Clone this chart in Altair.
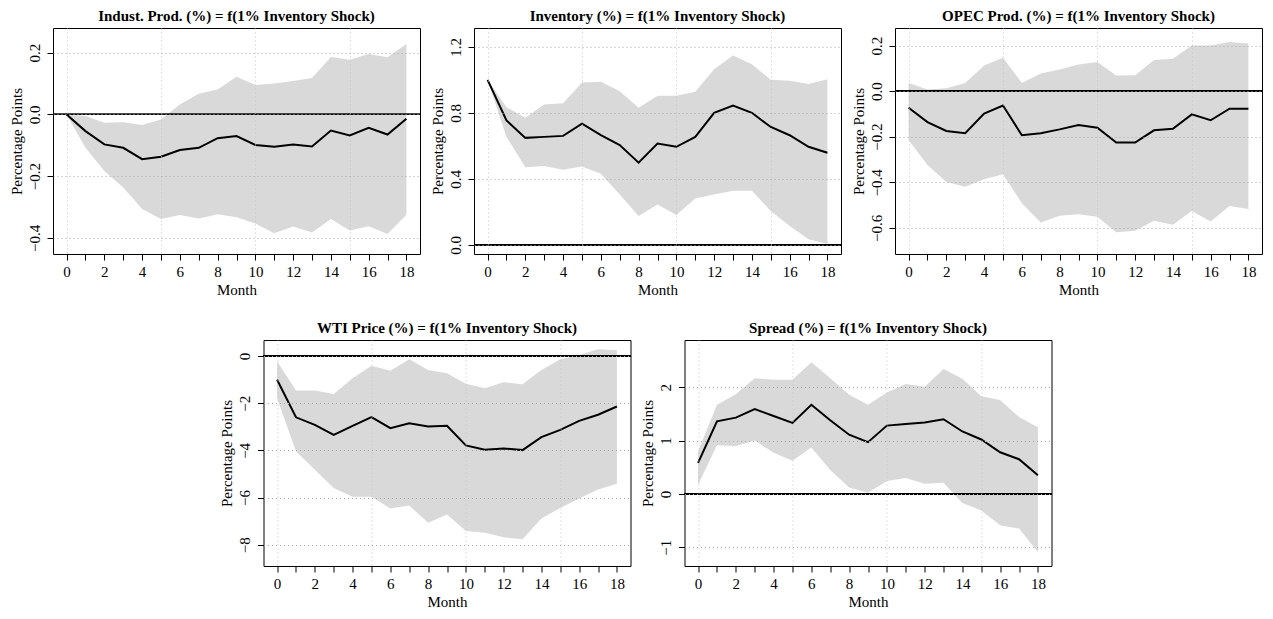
import altair as alt
import pandas as pd

months = list(range(19))

# Industrial production
ip_mean = [0, -0.054, -0.097, -0.108, -0.145, -0.137, -0.115, -0.108, -0.077, -0.070,
           -0.099, -0.105, -0.097, -0.104, -0.052, -0.068, -0.043, -0.065, -0.014]
ip_hi = [0, -0.005, -0.027, -0.025, -0.034, -0.016, 0.032, 0.067, 0.081, 0.122,
         0.095, 0.100, 0.108, 0.118, 0.186, 0.177, 0.196, 0.185, 0.228]
ip_lo = [0, -0.108, -0.183, -0.237, -0.306, -0.339, -0.326, -0.337, -0.323, -0.333,
         -0.353, -0.385, -0.363, -0.382, -0.339, -0.376, -0.362, -0.387, -0.325]

# Inventory
inv_mean = [1.0, 0.754, 0.648, 0.654, 0.660, 0.734, 0.664, 0.604, 0.498, 0.614,
            0.594, 0.654, 0.800, 0.844, 0.800, 0.714, 0.664, 0.594, 0.558]
inv_hi = [1.0, 0.834, 0.770, 0.850, 0.858, 0.984, 0.988, 0.930, 0.830, 0.904,
          0.904, 0.928, 1.064, 1.148, 1.094, 1.000, 0.994, 0.974, 1.004]
inv_lo = [1.0, 0.654, 0.470, 0.478, 0.454, 0.474, 0.430, 0.304, 0.174, 0.244,
          0.180, 0.280, 0.304, 0.328, 0.328, 0.204, 0.114, 0.034, 0.004]

# OPEC production
opec_mean = [-0.073, -0.136, -0.175, -0.185, -0.099, -0.063, -0.194, -0.185, -0.168, -0.149,
             -0.161, -0.226, -0.226, -0.172, -0.165, -0.102, -0.128, -0.077, -0.077]
opec_hi = [0.036, 0.007, 0.012, 0.036, 0.112, 0.146, 0.036, 0.077, 0.095, 0.117,
           0.128, 0.069, 0.070, 0.136, 0.142, 0.200, 0.200, 0.216, 0.209]
opec_lo = [-0.215, -0.324, -0.399, -0.420, -0.387, -0.365, -0.492, -0.577, -0.547, -0.540,
           -0.552, -0.620, -0.613, -0.569, -0.587, -0.526, -0.572, -0.504, -0.518]

# WTI price
wti_mean = [-1.01, -2.60, -2.92, -3.34, -2.96, -2.59, -3.06, -2.85, -2.99, -2.96,
            -3.79, -3.97, -3.92, -3.99, -3.44, -3.13, -2.75, -2.49, -2.14]
wti_hi = [-0.24, -1.46, -1.46, -1.61, -0.94, -0.42, -0.63, -0.14, -0.59, -0.73,
          -1.18, -1.37, -1.11, -1.20, -0.59, -0.14, 0.04, 0.28, 0.24]
wti_lo = [-1.79, -4.04, -4.82, -5.59, -5.97, -5.97, -6.46, -6.34, -7.07, -6.72,
          -7.42, -7.49, -7.68, -7.77, -6.89, -6.44, -6.04, -5.66, -5.42]

# Spread
spr_mean = [0.58, 1.36, 1.43, 1.59, 1.46, 1.33, 1.67, 1.38, 1.11, 0.97,
            1.28, 1.31, 1.34, 1.40, 1.17, 1.02, 0.78, 0.65, 0.35]
spr_hi = [0.80, 1.67, 1.87, 2.17, 2.14, 2.14, 2.47, 2.17, 1.86, 1.67,
          1.90, 2.06, 2.01, 2.34, 2.16, 1.83, 1.76, 1.44, 1.25]
spr_lo = [0.17, 0.91, 0.90, 1.00, 0.77, 0.62, 0.87, 0.45, 0.12, 0.02,
          0.24, 0.30, 0.19, 0.21, -0.17, -0.31, -0.59, -0.65, -1.09]

titles = [
    "Indust. Prod. (%) = f(1% Inventory Shock)",
    "Inventory (%) = f(1% Inventory Shock)",
    "OPEC Prod. (%) = f(1% Inventory Shock)",
    "WTI Price (%) = f(1% Inventory Shock)",
    "Spread (%) = f(1% Inventory Shock)",
]

ip_ticks = [-0.4, -0.3, -0.2, -0.1, 0.0, 0.1, 0.2]
ip_hidden = [-0.3, -0.1]
inv_ticks = [0.0, 0.2, 0.4, 0.6, 0.8, 1.0, 1.2]
opec_ticks = [-0.6, -0.4, -0.2, 0.0, 0.2]
wti_ticks = [-8, -6, -4, -2, 0]
spr_ticks = [-1, 0, 1, 2]

FONT = "Liberation Serif"
FS = 15
W, H = 367, 226


def panel(title, mean, lo, hi, ydom, yticks, fmt, hidden=()):
    df = pd.DataFrame({"month": months, "mean": mean, "lo": lo, "hi": hi})
    xsc = alt.Scale(domain=[-0.72, 18.72], nice=False, zero=False)
    ysc = alt.Scale(domain=ydom, nice=False, zero=False)
    lab = f"replace(format(datum.value, '{fmt}'), '-', '\u2212')"
    if hidden:
        cond = " || ".join(f"abs(datum.value - ({h})) < 1e-6" for h in hidden)
        lab = f"({cond}) ? '' : {lab}"
    xaxis = alt.Axis(
        values=months, title="Month",
        labelExpr="datum.value % 2 == 0 ? datum.label : ''",
        grid=True,
        gridOpacity={"condition": {"test": "datum.value % 5 == 0", "value": 1}, "value": 0},
        gridColor="#c4c4c4", gridDash=[1, 3], zindex=1,
        labelPadding=4, titlePadding=3,
    )
    yaxis = alt.Axis(
        values=yticks, title="Percentage Points", labelExpr=lab,
        grid=True, gridColor="#a8a8a8", gridDash=[1, 3], zindex=1,
        labelAngle=270, labelAlign="center", labelBaseline="bottom",
        labelPadding=5, titlePadding=3,
    )
    base = alt.Chart(df)
    band = base.mark_area(color="#d9d9d9", opacity=1).encode(
        x=alt.X("month:Q", scale=xsc, axis=xaxis),
        y=alt.Y("lo:Q", scale=ysc, axis=yaxis),
        y2="hi:Q",
    )
    zero = base.mark_rule(color="black", strokeWidth=1).encode(
        y=alt.datum(0),
    )
    line = base.mark_line(color="black", strokeWidth=2).encode(
        x=alt.X("month:Q", scale=xsc, axis=xaxis),
        y=alt.Y("mean:Q", scale=ysc, axis=yaxis),
    )
    return alt.layer(band, zero, line).properties(
        width=W, height=H,
        title=alt.TitleParams(title, font=FONT, fontSize=FS, fontWeight="bold",
                              color="black", offset=4),
    )


p1 = panel(titles[0], ip_mean, ip_lo, ip_hi, [-0.452, 0.28], ip_ticks, ".1f", ip_hidden)
p2 = panel(titles[1], inv_mean, inv_lo, inv_hi, [-0.056, 1.314], inv_ticks, ".1f")
p3 = panel(titles[2], opec_mean, opec_lo, opec_hi, [-0.715, 0.277], opec_ticks, ".1f")
p4 = panel(titles[3], wti_mean, wti_lo, wti_hi, [-8.9, 0.676], wti_ticks, "d")
p5 = panel(titles[4], spr_mean, spr_lo, spr_hi, [-1.352, 2.885], spr_ticks, "d")

top = alt.hconcat(p1, p2, p3, spacing=8)
bottom = alt.hconcat(p4, p5, spacing=8)

chart = alt.vconcat(top, bottom, spacing=22, center=True).properties(
    padding={"left": 0, "top": 0, "right": 0, "bottom": 0},
    background="white",
).configure_axis(
    labelFont=FONT, titleFont=FONT, labelFontSize=FS, titleFontSize=FS,
    labelColor="black", titleColor="black", titleFontWeight="normal",
    tickColor="black", tickSize=6, tickWidth=1, domain=False,
).configure_view(
    stroke="black", strokeWidth=1,
)

chart.save("out.html", embed_options={"renderer": "svg", "actions": False})
